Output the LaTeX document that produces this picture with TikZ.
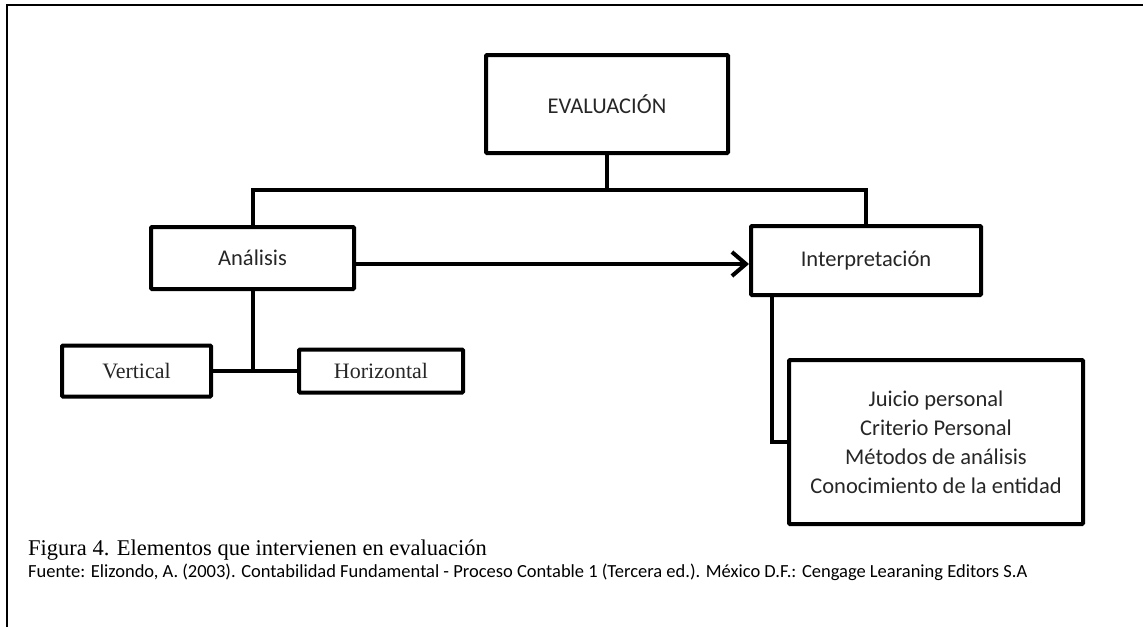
\documentclass[tikz,border=0pt]{standalone}
\usepackage{fontspec}
\setmainfont{Carlito}
\newfontfamily\capserif{Liberation Serif}
\usetikzlibrary{arrows.meta}
\tikzset{
  box/.style={draw, line width=4pt, rounded corners=1pt, inner sep=0pt, align=center, text=black!85, font=\fontsize{22.5}{29}\selectfont},
  tbox/.style={box, font=\capserif\fontsize{22}{26}\selectfont},
  link/.style={line width=4pt, line join=miter},
  arr/.style={line width=4pt, -{Straight Barb[length=14pt,width=24pt]}},
}
\begin{document}
\begin{tikzpicture}[x=1pt,y=-1pt]
\useasboundingbox (0,0) rectangle (1143,627);
\draw[line width=1.2pt] (7,627) -- (7,5) -- (1143,5);

\node[box, minimum width=242pt, minimum height=98pt] (eval) at (607,104) {EVALUACIÓN};
\node[box, minimum width=203pt, minimum height=62pt] (ana) at (252.5,258) {Análisis};
\node[box, minimum width=230pt, minimum height=69pt] (interp) at (866,260.5) {Interpretación};
\node[box, minimum width=294pt, minimum height=164pt] (crit) at (936,442) {Juicio personal\\Criterio Personal\\Métodos de análisis\\Conocimiento de la entidad};
\node[tbox, minimum width=149pt, minimum height=51pt] (vert) at (136.5,371) {Vertical};
\node[tbox, minimum width=164pt, minimum height=43pt] (horiz) at (381,371) {Horizontal};

\coordinate (j) at (607,190);
\draw[link] (eval.south) -- (j);
\draw[link] (ana.north) |- (j) -| (interp.north);
\draw[arr] ([yshift=-6pt]ana.east) -- ([yshift=-6pt]ana.east -| interp.west);
\draw[link] (ana.south) -- (ana.south |- vert.east);
\draw[link] (vert.east) -- (horiz.west);
\draw[link] ([xshift=23pt]interp.south west) |- (crit.west);

\node[anchor=west, inner sep=0pt, font=\capserif\fontsize{22.5}{26}\selectfont] (cap) at (28,550) {Figura 4. Elementos que intervienen en evaluación};
\node[anchor=west, inner sep=0pt, font=\fontsize{18.5}{22}\selectfont] (src) at (28,572) {Fuente: Elizondo, A. (2003). Contabilidad Fundamental - Proceso Contable 1 (Tercera ed.). México D.F.: Cengage Learaning Editors S.A};
\end{tikzpicture}
\end{document}
